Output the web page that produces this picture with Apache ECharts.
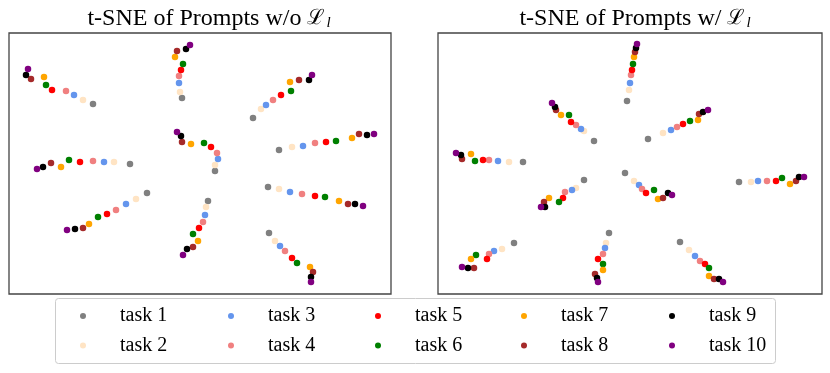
<!DOCTYPE html>
<html>
<head>
<meta charset="utf-8">
<script src="https://cdn.jsdelivr.net/npm/echarts@6/dist/echarts.min.js"></script>
<style>
  html, body { margin: 0; padding: 0; background: #fff; }
  #chart { width: 830px; height: 373px; }
</style>
</head>
<body>
<div id="chart"></div>
<script>
// task names and colours (matplotlib named colours)
var taskNames = ['task 1', 'task 2', 'task 3', 'task 4', 'task 5',
                 'task 6', 'task 7', 'task 8', 'task 9', 'task 10'];
var taskColors = ['#808080', '#ffe4c4', '#6495ed', '#f08080', '#ff0000',
                  '#008000', '#ffa500', '#a52a2a', '#000000', '#800080'];

// t-SNE embedding w/o L_l, one list per task (10 clusters each)
var woPoints = [
  [[84,190],[173,196],[244,176],[270,144],[206,123],[121,130],[138,101],[199,93],[259,107],[260,61]],
  [[74,194],[171,202],[252,185],[283,147],[206,129],[105,132],[127,95],[197,87],[270,105],[266,53]],
  [[65,199],[170,211],[257,189],[294,148],[209,135],[95,132],[117,90],[196,79],[281,102],[271,48]],
  [[57,203],[170,218],[264,194],[306,151],[208,141],[84,133],[107,84],[194,72],[293,100],[276,43]],
  [[43,204],[172,224],[272,199],[317,152],[202,147],[71,132],[98,80],[190,66],[306,98],[283,36]],
  [[37,209],[174,230],[282,203],[327,153],[195,151],[60,134],[89,77],[184,60],[316,97],[288,31]],
  [[35,217],[166,237],[281,212],[343,156],[182,150],[52,127],[80,70],[189,53],[330,93],[301,27]],
  [[22,215],[168,243],[290,214],[350,160],[173,152],[42,131],[74,66],[184,47],[339,90],[304,22]],
  [[17,219],[177,245],[300,214],[358,159],[172,158],[34,127],[66,65],[178,45],[346,90],[302,17]],
  [[19,225],[181,249],[303,219],[365,160],[168,162],[28,125],[58,64],[174,39],[354,88],[302,12]]
];

// t-SNE embedding w/ L_l
var wPoints = [
  [[189,193],[156,153],[210,155],[85,132],[187,121],[146,114],[301,112],[76,51],[171,61],[242,52]],
  [[191,204],[146,163],[225,161],[71,132],[196,113],[138,106],[313,112],[64,45],[168,51],[251,44]],
  [[192,211],[143,165],[233,164],[60,133],[201,109],[134,104],[320,113],[56,43],[167,46],[257,38]],
  [[193,219],[138,169],[239,167],[51,134],[204,105],[127,102],[329,113],[51,40],[165,40],[262,33]],
  [[194,224],[133,172],[245,170],[45,134],[208,101],[125,96],[338,113],[49,35],[160,35],[267,30]],
  [[195,230],[131,179],[252,173],[37,133],[216,104],[121,92],[344,116],[38,39],[165,30],[271,26]],
  [[196,237],[123,179],[260,174],[33,140],[220,95],[111,96],[352,110],[33,35],[165,24],[271,18]],
  [[197,242],[118,184],[261,180],[24,135],[225,96],[106,92],[358,113],[36,26],[157,20],[276,15]],
  [[198,246],[117,187],[265,182],[23,139],[230,101],[107,87],[361,117],[30,26],[159,16],[281,15]],
  [[199,250],[114,191],[270,184],[18,141],[234,99],[103,87],[366,117],[24,27],[160,12],[285,12]]
];

var serif = 'Liberation Serif, Times New Roman, serif';

var chart = echarts.init(document.getElementById('chart'));

var series = [];
for (var i = 0; i < taskNames.length; i++) {
  series.push({
    name: taskNames[i], type: 'scatter', xAxisIndex: 0, yAxisIndex: 0,
    data: woPoints[i], symbolSize: 6.5, itemStyle: { color: taskColors[i], opacity: 1 }
  });
  series.push({
    name: taskNames[i], type: 'scatter', xAxisIndex: 1, yAxisIndex: 1,
    data: wPoints[i], symbolSize: 6.5, itemStyle: { color: taskColors[i], opacity: 1 }
  });
}

// legend: 5 columns of 2 items
var legends = [];
var colLeft = [80, 228, 375, 521, 669];
for (var c = 0; c < 5; c++) {
  legends.push({
    orient: 'vertical',
    left: colLeft[c], top: 306,
    padding: 0,
    itemGap: 9.5,
    itemWidth: 6, itemHeight: 6,
    icon: 'circle',
    selectedMode: false,
    data: [taskNames[2 * c], taskNames[2 * c + 1]],
    textStyle: { fontFamily: serif, fontSize: 20, color: '#000', lineHeight: 20, padding: [0, 0, 0, 29] }
  });
}

var titleRich = {
  a: { fontFamily: serif, fontSize: 24, fontWeight: 'normal', color: '#000' },
  b: { fontFamily: 'DejaVu Serif', fontSize: 21, fontWeight: 'normal', color: '#000' },
  c: { fontFamily: serif, fontStyle: 'italic', fontSize: 15, fontWeight: 'normal', color: '#000', padding: [9, 0, 0, 1] }
};

var axisCommon = {
  type: 'value', axisLine: { show: false }, axisTick: { show: false },
  axisLabel: { show: false }, splitLine: { show: false }
};

var option = {
  backgroundColor: '#fff',
  animation: false,
  title: [
    { text: '{a|t-SNE of Prompts w/o }{b|ℒ}{c|l}', left: 204, top: 2, textAlign: 'center',
      textStyle: { fontWeight: 'normal', rich: titleRich } },
    { text: '{a|t-SNE of Prompts w/ }{b|ℒ}{c|l}', left: 630, top: 2, textAlign: 'center',
      textStyle: { fontWeight: 'normal', rich: titleRich } }
  ],
  legend: legends,
  graphic: [{
    type: 'rect', left: 55, top: 298, z: -1,
    shape: { width: 720, height: 65, r: 3 },
    style: { fill: '#fff', stroke: '#cccccc', lineWidth: 1 }
  }],
  grid: [
    { left: 9, top: 33, width: 382, height: 261, show: true, borderColor: '#444', borderWidth: 1.3, backgroundColor: 'transparent' },
    { left: 438, top: 33, width: 384, height: 261, show: true, borderColor: '#444', borderWidth: 1.3, backgroundColor: 'transparent' }
  ],
  xAxis: [
    Object.assign({ gridIndex: 0, min: 0, max: 382 }, axisCommon),
    Object.assign({ gridIndex: 1, min: 0, max: 384 }, axisCommon)
  ],
  yAxis: [
    Object.assign({ gridIndex: 0, min: 0, max: 261 }, axisCommon),
    Object.assign({ gridIndex: 1, min: 0, max: 261 }, axisCommon)
  ],
  series: series
};

chart.setOption(option);
window.onresize = chart.resize;
</script>
</body>
</html>
